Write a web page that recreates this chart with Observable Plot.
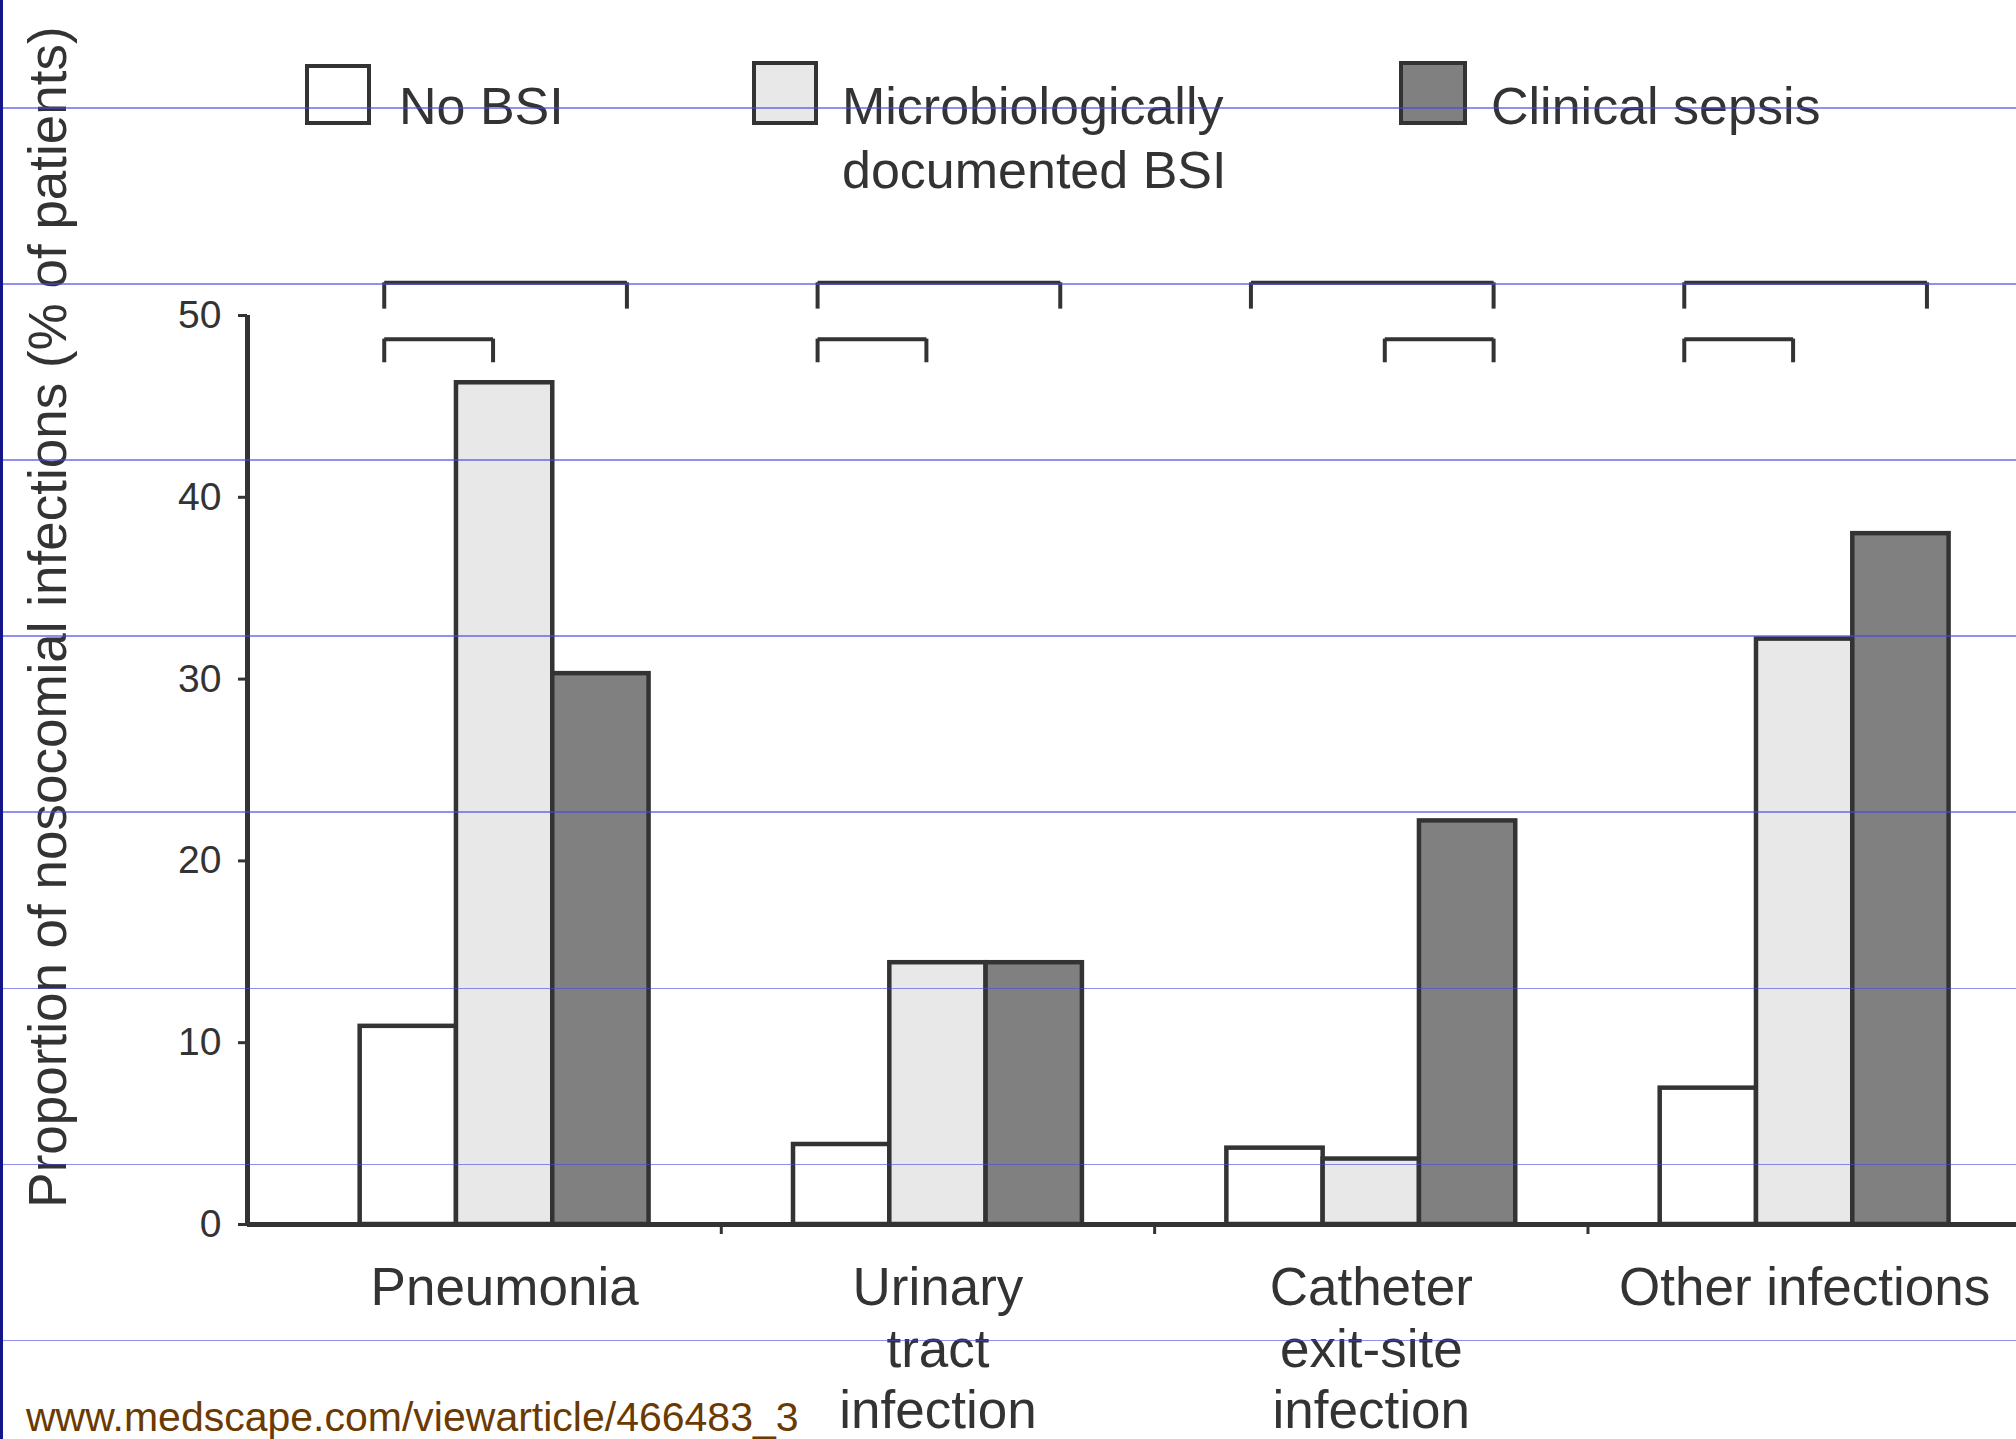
<!DOCTYPE html>
<html>
<head>
<meta charset="utf-8">
<script src="https://cdn.jsdelivr.net/npm/d3@7"></script>
<script src="https://cdn.jsdelivr.net/npm/@observablehq/plot@0.6"></script>
<style>
  html, body { margin: 0; padding: 0; background: #fff; }
  #page { position: relative; width: 2016px; height: 1439px; overflow: hidden; background: #fff;
          font-family: "Liberation Sans", Arial, sans-serif; color: #333; }
  #page > svg { position: absolute; left: 0; top: 0; }
  .box { position: absolute; box-sizing: border-box; border: 4px solid #333; }
  .ltext { position: absolute; font-size: 52px; line-height: 64px; color: #333; white-space: nowrap; }
  #ylabel { position: absolute; left: 47px; top: 617px; font-size: 53px; color: #333; white-space: nowrap;
            transform: translate(-50%, -50%) rotate(-90deg); }
  #caption { position: absolute; left: 26px; top: 1397px; font-size: 41px; line-height: 41px; color: #6b3a00; white-space: nowrap; }
  .hline { position: absolute; left: 0; width: 2016px; height: 1.5px; background: rgba(70,70,225,0.6); pointer-events: none; }
  #lborder { position: absolute; left: 0; top: 0; width: 3px; height: 1439px; background: #14148c; }
</style>
</head>
<body>
<div id="page"></div>
<script>
// ---- data ----
const categories = ["Pneumonia", "Urinary tract infection", "Catheter exit-site infection", "Other infections"];
const categoryLabels = ["Pneumonia", "Urinary\ntract\ninfection", "Catheter\nexit-site\ninfection", "Other infections"];
const seriesNames = ["No BSI", "Microbiologically documented BSI", "Clinical sepsis"];
const noBSI = [10.9, 4.4, 4.2, 7.5];
const microBSI = [46.3, 14.4, 3.6, 32.2];
const clinicalSepsis = [30.3, 14.4, 22.2, 38.0];
const yTicks = [0, 10, 20, 30, 40, 50];
// significance brackets: category index, from series index, to series index, tier (0 = upper, 1 = lower)
const bracketCategory = [0, 0, 1, 1, 2, 2, 3, 3];
const bracketFrom     = [0, 0, 0, 0, 0, 1, 0, 0];
const bracketTo       = [2, 1, 2, 1, 2, 2, 2, 1];
const bracketTier     = [0, 1, 0, 1, 0, 1, 0, 1];
const tierTop = [51.8, 48.7];
const tierLeg = [50.35, 47.4];

// ---- layout helpers (in bar-width units) ----
const groupStep = 4.5;
const xDomain = [-1.17, 17.2];
const seriesValues = [noBSI, microBSI, clinicalSepsis];
const fills = ["#ffffff", "#e8e8e8", "#808080"];
const rows = [];
categories.forEach((c, i) => seriesNames.forEach((s, j) => rows.push({
  category: c, series: s, si: j, value: seriesValues[j][i],
  x1: i * groupStep + j, x2: i * groupStep + j + 1
})));
const startOff = [0.25, 0.64, 0.5];
const endOff = [0.5, 0.38, 0.77];
const brackets = bracketCategory.map((c, k) => ({
  x1: c * groupStep + bracketFrom[k] + startOff[bracketFrom[k]],
  x2: c * groupStep + bracketTo[k] + endOff[bracketTo[k]],
  top: tierTop[bracketTier[k]], leg: tierLeg[bracketTier[k]]
}));
const legs = brackets.flatMap(b => [{x: b.x1, top: b.top, leg: b.leg}, {x: b.x2, top: b.top, leg: b.leg}]);
const centers = categories.map((c, i) => i * groupStep + 1.5);
const separators = categories.slice(1).map((c, i) => i * groupStep + 3 + (groupStep - 3) / 2);

const chart = Plot.plot({
  width: 2016, height: 1439,
  marginLeft: 247, marginRight: 0, marginTop: 315, marginBottom: 215,
  x: {domain: xDomain},
  y: {domain: [0, 50]},
  style: {fontFamily: "'Liberation Sans', Arial, sans-serif", color: "#333", background: "transparent", overflow: "visible"},
  marks: [
    Plot.rectY(rows, {x1: "x1", x2: "x2", y1: 0, y2: "value", fill: d => fills[d.si], stroke: "#333", strokeWidth: 4.5}),
    Plot.ruleY([0], {stroke: "#333", strokeWidth: 5}),
    Plot.ruleX([xDomain[0]], {y1: 0, y2: 50, stroke: "#333", strokeWidth: 5}),
    Plot.axisY({ticks: yTicks, tickSize: 9, tickPadding: 17, fontSize: 39, strokeWidth: 3, label: null}),
    Plot.axisX({ticks: separators, tickSize: 10, strokeWidth: 3, tickFormat: () => "", label: null}),
    Plot.axisX({ticks: centers, tickSize: 0, tickPadding: 37, fontSize: 53, lineHeight: 1.16, label: null,
                tickFormat: d => categoryLabels[Math.round((d - 1.5) / groupStep)]}),
    Plot.link(brackets, {x1: "x1", x2: "x2", y1: "top", y2: "top", stroke: "#333", strokeWidth: 4}),
    Plot.ruleX(legs, {x: "x", y1: "leg", y2: "top", stroke: "#333", strokeWidth: 4})
  ]
});

const page = document.getElementById("page");
page.appendChild(chart);

// legend (HTML, above the plot area)
const legendItems = [
  {box: [305, 64, 66, 61], text: "No BSI", tx: 399},
  {box: [752, 61, 66, 64], text: "Microbiologically<br>documented BSI", tx: 842},
  {box: [1399, 61, 68, 64], text: "Clinical sepsis", tx: 1491}
];
legendItems.forEach((it, j) => {
  const b = document.createElement("div");
  b.className = "box";
  b.style.left = it.box[0] + "px"; b.style.top = it.box[1] + "px";
  b.style.width = it.box[2] + "px"; b.style.height = it.box[3] + "px";
  b.style.background = fills[j];
  page.appendChild(b);
  const t = document.createElement("div");
  t.className = "ltext";
  t.style.left = it.tx + "px"; t.style.top = "74px";
  t.innerHTML = it.text;
  page.appendChild(t);
});

const yl = document.createElement("div");
yl.id = "ylabel";
yl.textContent = "Proportion of nosocomial infections (% of patients)";
page.appendChild(yl);

const cap = document.createElement("div");
cap.id = "caption";
cap.textContent = "www.medscape.com/viewarticle/466483_3";
page.appendChild(cap);

// ruled-paper lines over the picture
for (let k = 0; k < 8; k++) {
  const l = document.createElement("div");
  l.className = "hline";
  l.style.top = (107 + k * 176.1) + "px";
  page.appendChild(l);
}
const lb = document.createElement("div");
lb.id = "lborder";
page.appendChild(lb);
</script>
</body>
</html>
